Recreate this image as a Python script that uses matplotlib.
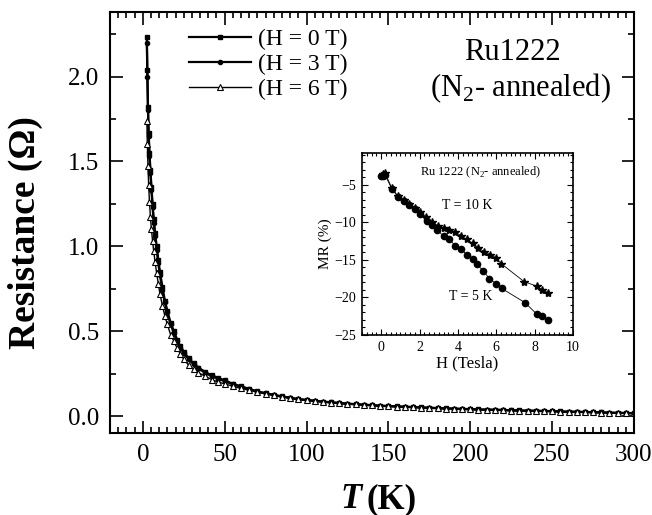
import numpy as np
import matplotlib.pyplot as plt
from matplotlib.ticker import MultipleLocator

plt.rcParams['font.family'] = ['Liberation Serif', 'DejaVu Serif']
plt.rcParams['mathtext.fontset'] = 'custom'
plt.rcParams['mathtext.rm'] = 'Liberation Serif'

# temperature grid (K)
T = [2.5, 2.8, 3.2, 3.6, 4.1, 4.7, 5.3, 6.0, 6.7, 7.5,
     8.5, 9.5, 10.5, 12, 13.5, 15, 17, 19, 21, 23,
     25, 28, 31, 34, 38, 42, 46, 50, 55, 60,
     65, 70, 75, 80, 85, 90, 95,
     100, 105, 110, 115, 120, 125, 130, 135, 140, 145,
     150, 155, 160, 165, 170, 175, 180, 185, 190, 195,
     200, 205, 210, 215, 220, 225, 230, 235, 240, 245,
     250, 255, 260, 265, 270, 275, 280, 285, 290, 295, 300]

R_0T = [2.23, 2.04, 1.82, 1.67, 1.55, 1.45, 1.35, 1.25, 1.16, 1.08,
        1.00, 0.92, 0.85, 0.76, 0.68, 0.62, 0.55, 0.50, 0.45, 0.41,
        0.38, 0.34, 0.31, 0.285, 0.26, 0.24, 0.225, 0.21, 0.19, 0.175,
        0.16, 0.145, 0.135, 0.125, 0.116, 0.108, 0.100,
        0.095, 0.090, 0.085, 0.081, 0.077, 0.073, 0.070, 0.067, 0.064, 0.061,
        0.059, 0.057, 0.055, 0.053, 0.051, 0.049, 0.047, 0.045, 0.044, 0.042,
        0.041, 0.039, 0.038, 0.037, 0.036, 0.034, 0.033, 0.032, 0.031, 0.030,
        0.029, 0.027, 0.026, 0.025, 0.024, 0.023, 0.022, 0.020, 0.019, 0.018, 0.017]

R_3T = [2.20, 2.00, 1.80, 1.65, 1.53, 1.43, 1.33, 1.23, 1.14, 1.06,
        0.98, 0.90, 0.83, 0.74, 0.67, 0.61, 0.54, 0.49, 0.44, 0.40,
        0.37, 0.335, 0.305, 0.28, 0.255, 0.235, 0.22, 0.205, 0.187, 0.172,
        0.158, 0.143, 0.133, 0.123, 0.114, 0.106, 0.098,
        0.094, 0.089, 0.084, 0.080, 0.076, 0.072, 0.069, 0.066, 0.063, 0.060,
        0.058, 0.056, 0.054, 0.052, 0.050, 0.048, 0.046, 0.044, 0.043, 0.041,
        0.040, 0.038, 0.037, 0.036, 0.035, 0.033, 0.032, 0.031, 0.030, 0.029,
        0.028, 0.026, 0.025, 0.024, 0.023, 0.022, 0.021, 0.019, 0.018, 0.017, 0.016]

R_6T = [1.74, 1.60, 1.47, 1.36, 1.26, 1.17, 1.10, 1.03, 0.97, 0.91,
        0.84, 0.78, 0.72, 0.65, 0.59, 0.54, 0.48, 0.44, 0.40, 0.365,
        0.335, 0.30, 0.275, 0.255, 0.235, 0.215, 0.20, 0.19, 0.175, 0.163,
        0.152, 0.141, 0.131, 0.122, 0.114, 0.106, 0.099,
        0.093, 0.088, 0.083, 0.079, 0.075, 0.071, 0.068, 0.065, 0.062, 0.059,
        0.057, 0.055, 0.053, 0.051, 0.049, 0.047, 0.045, 0.043, 0.042, 0.040,
        0.039, 0.037, 0.036, 0.035, 0.034, 0.032, 0.031, 0.030, 0.029, 0.028,
        0.027, 0.025, 0.024, 0.023, 0.022, 0.021, 0.020, 0.018, 0.017, 0.016, 0.015]

# inset: magnetoresistance vs field
H_5K = [0.0, 0.1, 0.2, 0.56, 0.87, 1.2, 1.46, 1.77, 2.03, 2.38, 2.64, 2.93, 3.25,
        3.56, 3.85, 4.15, 4.46, 4.77, 5.0, 5.33, 5.64, 5.99, 6.28, 7.5, 8.1, 8.4, 8.72]
MR_5K = [-3.9, -3.8, -3.7, -5.6, -6.6, -7.2, -7.7, -8.2, -8.9, -9.9, -10.4, -11.0, -11.9,
         -12.3, -13.1, -13.6, -14.3, -14.9, -15.6, -16.5, -17.5, -18.2, -18.8, -20.7, -22.2, -22.5, -23.0]
H_10K = [0.1, 0.2, 0.56, 0.87, 1.2, 1.46, 1.77, 2.03, 2.34, 2.64, 2.98, 3.28, 3.56,
         3.85, 4.17, 4.46, 4.77, 5.07, 5.36, 5.68, 5.97, 6.25, 7.45, 8.1, 8.4, 8.72]
MR_10K = [-3.6, -3.45, -5.5, -6.5, -7.1, -7.6, -8.1, -8.7, -9.3, -10.0, -10.5, -10.8, -11.0,
          -11.3, -11.8, -12.3, -12.8, -13.4, -13.9, -14.3, -14.7, -15.5, -17.9, -18.5, -19.0, -19.4]

W, H = 652, 515


def px(x, y):
    return x / W, 1 - y / H


fig = plt.figure(figsize=(W / 100, H / 100), dpi=100)
ax = fig.add_axes([110 / W, 1 - 433 / H, (634 - 110) / W, (433 - 12) / H])

ax.plot(T, R_0T, '-', color='k', lw=1.6, marker='s', ms=3, label='(H = 0 T)')
ax.plot(T, R_3T, '-', color='k', lw=1.6, marker='o', ms=3, label='(H = 3 T)')
ax.plot(T, R_6T, '-', color='k', lw=1.0, marker='^', ms=4.5, mfc='white', mec='k',
        mew=0.8, label='(H = 6 T)')

ax.set_xlim(-20, 300)
ax.set_ylim(-0.1, 2.38)
ax.xaxis.set_major_locator(MultipleLocator(50))
ax.xaxis.set_minor_locator(MultipleLocator(5))
ax.yaxis.set_major_locator(MultipleLocator(0.5))
ax.yaxis.set_minor_locator(MultipleLocator(0.25))
ax.yaxis.set_major_formatter(plt.FormatStrFormatter('%.1f'))
ax.tick_params(which='both', direction='in', top=True, right=True, width=1.2)
ax.tick_params(which='major', length=9, labelsize=18, pad=8)
ax.tick_params(which='minor', length=4.5)
for s in ax.spines.values():
    s.set_linewidth(1.5)

ax.legend(loc='upper left', bbox_to_anchor=(0.12, 1.0), frameon=False, fontsize=17,
          handlelength=2.6, handletextpad=0.3, labelspacing=0.15, numpoints=1,
          borderaxespad=0.3)

fig.text(*px(25, 233), 'Resistance (\u03a9)', rotation=90, ha='center', va='center',
         fontsize=27, fontweight='bold')
fig.text(*px(362, 508), 'T', ha='right', va='baseline', fontsize=25,
         fontweight='bold', style='italic')
fig.text(*px(366, 508), '(K)', ha='left', va='baseline', fontsize=25, fontweight='bold')

fig.text(*px(512, 53), 'Ru1222', ha='center', va='center', fontsize=22)
fig.text(*px(520, 88), '(N$_2$- annealed)', ha='center', va='center', fontsize=22)

# inset
ins = fig.add_axes([362 / W, 1 - 335 / H, (573 - 362) / W, (335 - 153) / H])
ins.plot(H_5K, MR_5K, '-', color='k', lw=0.6, marker='o', ms=4.5)
ins.plot(H_10K, MR_10K, '-', color='k', lw=0.6, marker='*', ms=6)
ins.set_xlim(-1, 10)
ins.set_ylim(-25, -0.8)
ins.xaxis.set_major_locator(MultipleLocator(2))
ins.xaxis.set_minor_locator(MultipleLocator(0.25))
ins.yaxis.set_major_locator(MultipleLocator(5))
ins.yaxis.set_minor_locator(MultipleLocator(1))
ins.tick_params(which='both', direction='in', top=True, right=True, width=0.8)
ins.tick_params(which='major', length=4, labelsize=10, pad=4)
ins.tick_params(which='minor', length=2)
for s in ins.spines.values():
    s.set_linewidth(1.2)
ins.set_xlabel('H (Tesla)', fontsize=12, labelpad=1)
ins.set_ylabel('MR (%)', fontsize=11, labelpad=2)
ins.text(0.564, 0.896, 'Ru 1222 (N$_2$- annealed)', transform=ins.transAxes,
         ha='center', va='center', fontsize=9)
ins.text(0.498, 0.714, 'T = 10 K', transform=ins.transAxes, ha='center', va='center',
         fontsize=10)
ins.text(0.517, 0.209, 'T = 5 K', transform=ins.transAxes, ha='center', va='center',
         fontsize=10)

fig.savefig('out.png', dpi=100)
